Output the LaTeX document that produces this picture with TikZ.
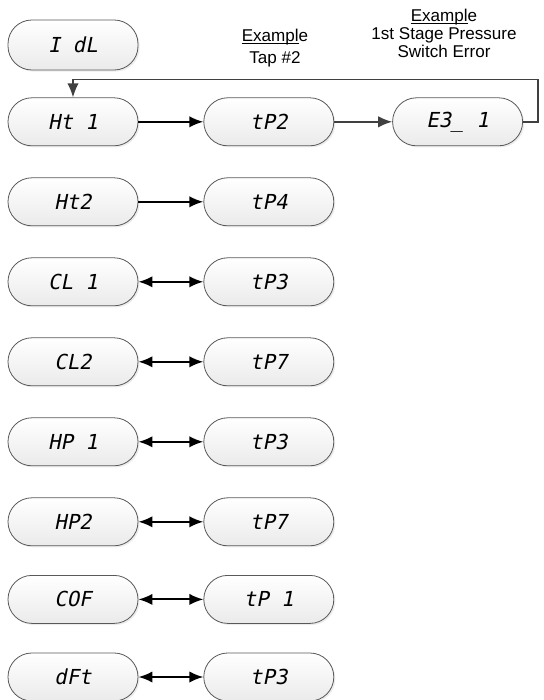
\documentclass[tikz,border=0pt]{standalone}
\usepackage{fontspec}
\setmainfont{Liberation Sans}
\newfontfamily\segfont[FakeSlant=0.2]{DejaVu Sans Mono}
\usepackage{tikz}
\usetikzlibrary{arrows.meta,shapes,positioning,shadows,calc}
\usepackage{xcolor}
\newcommand\exul[1]{{\setbox0\hbox{#1}\rlap{\rule[-1.6pt]{\wd0}{0.6pt}}\box0}}

\begin{document}
\begin{tikzpicture}[x=0.75pt, y=-0.75pt, node distance=23.4pt and 48.75pt, >={Latex[length=10.5pt,width=8.5pt]},
        disp/.style={draw=black!65, line width=0.6pt, top color=white, bottom color=black!8, rounded corners=17.9pt, minimum width=97.5pt, minimum height=36pt, drop shadow={shadow xshift=1.2pt, shadow yshift=-1.2pt, opacity=0.15}, font=\segfont\fontsize{15.5}{18}\selectfont},
        link/.style={line width=1.5pt, black},
        greylink/.style={line width=1.1pt, black!75},
        note/.style={align=center, inner sep=0pt, font=\fontsize{12.8}{13.6}\selectfont}]
        \useasboundingbox (0,0) rectangle (543,700);

        \node [disp, minimum height=37.5pt] (idl) at (73,45) {I dL};
        \node [disp, below=20.25pt of idl] (ht1) {Ht 1};
        \node [disp, right=of ht1] (tp2) {tP2};
        \node [disp, right=43.5pt of tp2] (e31) {E3\_ 1};
        \node [disp, below=of ht1] (ht2) {Ht2};
        \node [disp, right=of ht2] (tp4) {tP4};
        \node [disp, below=of ht2] (cl1) {CL 1};
        \node [disp, right=of cl1] (tp3a) {tP3};
        \node [disp, below=of cl1] (cl2) {CL2};
        \node [disp, right=of cl2] (tp7a) {tP7};
        \node [disp, below=of cl2] (hp1) {HP 1};
        \node [disp, right=of hp1] (tp3b) {tP3};
        \node [disp, below=of hp1] (hp2) {HP2};
        \node [disp, right=of hp2] (tp7b) {tP7};
        \node [disp, below=21.6pt of hp2] (cof) {COF};
        \node [disp, right=of cof] (tp1) {tP 1};
        \node [disp, below=21.6pt of cof] (dft) {dFt};
        \node [disp, right=of dft] (tp3c) {tP3};

        \node [note, anchor=south] (taptxt) at (275,67.6) {\exul{Exampl}e\\[3pt]Tap \#2};
        \node [note, anchor=south] (errtxt) at (444,58.3) {\exul{Exampl}e\\1st Stage Pressure\\Switch Error};

        \draw [link, ->] (ht1) -- (tp2);
        \draw [greylink, ->] (tp2) -- (e31);
        \draw [greylink, ->] (e31.east) -- ++(11.25pt,0pt) |- ($(ht1.north)+(0pt,13.5pt)$) -- (ht1.north);
        \draw [link, ->] (ht2) -- (tp4);
        \draw [link, <->] (cl1) -- (tp3a);
        \draw [link, <->] (cl2) -- (tp7a);
        \draw [link, <->] (hp1) -- (tp3b);
        \draw [link, <->] (hp2) -- (tp7b);
        \draw [link, <->] (cof) -- (tp1);
        \draw [link, <->] (dft) -- (tp3c);
    \end{tikzpicture}
\end{document}
